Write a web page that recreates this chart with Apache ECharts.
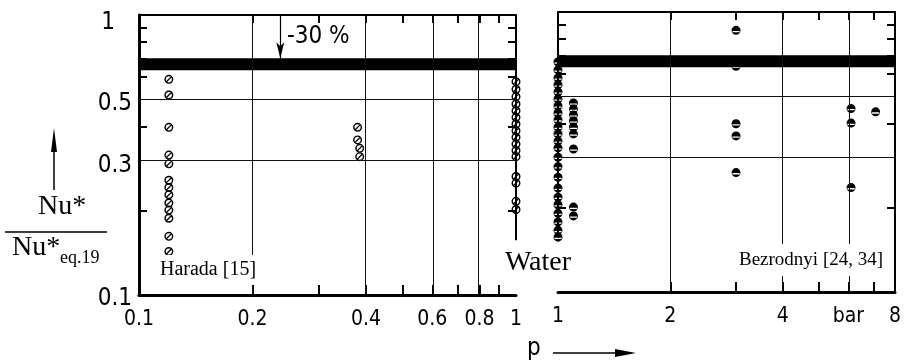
<!DOCTYPE html>
<html>
<head>
<meta charset="utf-8">
<script src="https://cdn.jsdelivr.net/npm/echarts@6/dist/echarts.min.js"></script>
<style>
  html, body { margin: 0; padding: 0; background: #fff; }
  #chart { width: 908px; height: 364px; }
</style>
</head>
<body>
<div id="chart"></div>
<script>
// ---- readings: pressure p (bar) and ratio Nu*/Nu*eq.19 ----
const haradaP = 0.12;
const haradaRatio = [0.589, 0.518, 0.397, 0.316, 0.294, 0.257, 0.242, 0.228, 0.213, 0.201, 0.188, 0.162, 0.143];

const midP = [0.38, 0.38, 0.385, 0.385];
const midRatio = [0.397, 0.358, 0.334, 0.312];

const waterLowP = 1.0;
const waterLowRatio = [0.578, 0.543, 0.511, 0.481, 0.455, 0.431, 0.408, 0.386, 0.366, 0.346, 0.328, 0.312, 0.265, 0.251, 0.216, 0.202];

const waterP = 1.0;
const waterRatio = [0.663, 0.621, 0.581, 0.549, 0.518, 0.489, 0.462, 0.436, 0.412, 0.388, 0.367, 0.346, 0.327, 0.303, 0.280, 0.257, 0.235, 0.218, 0.205, 0.191, 0.178, 0.166, 0.157];

const water2P = 1.1;
const water2Ratio = [0.473, 0.450, 0.429, 0.408, 0.388, 0.367, 0.324, 0.201, 0.187];

const bezP = [3, 3, 3, 3, 3, 6.1, 6.1, 6.1, 7.1];
const bezRatio = [0.86, 0.64, 0.399, 0.361, 0.267, 0.452, 0.401, 0.236, 0.440];

// scatter band of eq.19 and the -30 % marker
const bandTop = 0.70;
const bandBottom = 0.635;
const arrowP = 0.237;
const innerEdgeLow = 0.157;

// axis ranges, ticks, grid lines, labels
const leftRange = [0.1, 1];
const rightRange = [1, 8];
const ratioRange = [0.1, 1];
const leftXTicks = [0.2, 0.3, 0.4, 0.5, 0.6, 0.7, 0.8, 0.9];
const leftXGrid = [0.2, 0.4, 0.6, 0.8];
const leftXLabels = [0.1, 0.2, 0.4, 0.6, 0.8, 1];
const rightXTicks = [2, 3, 4, 5, 6, 7];
const rightXGrid = [2, 4, 6];
const rightXLabels = [1, 2, 4, 6, 8];
const unitTick = 6;           // the "bar" unit sits in place of the 6 label
const yTicks = [0.2, 0.4, 0.6, 0.7, 0.8, 0.9];
const yGrid = [0.3, 0.5];
const yLabels = [0.1, 0.3, 0.5, 1];

// ---- helpers ----
const L = Math.log10;
const pt = (p, v) => [L(p), L(v)];
const back = v => +Math.pow(10, v).toPrecision(3);

const numFont = '"DejaVu Sans Condensed", "Liberation Sans Narrow", "DejaVu Sans", sans-serif';
const serifFont = '"Liberation Serif", "DejaVu Serif", serif';

const slashCircle = 'path://M50,0A50,50 0 1 1 50,100A50,50 0 1 1 50,0Z M50,16A34,34 0 1 0 50,84A34,34 0 1 0 50,16Z M15,75L75,15L85,25L25,85Z';
const stripedDot = 'path://M50,0A50,50 0 1 1 50,100A50,50 0 1 1 50,0Z M10,56L10,70L90,70L90,56Z';

const fmtP = v => { const p = back(v); return p === unitTick ? 'bar' : String(p); };
const fmtY = v => { const r = back(v); return r === 1 ? '{one|1}' : String(r); };

function xAxis(grid, range, pos, ticks, labels, lineW, tickLen) {
  return {
    type: 'value', gridIndex: grid, position: pos,
    min: L(range[0]), max: L(range[1]),
    axisLine: { show: true, onZero: false, lineStyle: { color: '#000', width: lineW } },
    axisTick: { show: true, inside: true, length: tickLen, customValues: ticks.map(L),
      lineStyle: { color: '#000', width: 2 } },
    axisLabel: labels ? {
      show: true, customValues: labels.map(L), formatter: fmtP,
      color: '#000', fontSize: 21, fontFamily: numFont, margin: 14
    } : { show: false },
    splitLine: { show: false }
  };
}

function yAxis(grid, pos, showLine, lineW, labels) {
  return {
    type: 'value', gridIndex: grid, position: pos,
    min: L(ratioRange[0]), max: L(ratioRange[1]),
    axisLine: { show: showLine, onZero: false, lineStyle: { color: '#000', width: lineW } },
    axisTick: { show: true, inside: true, length: 8, customValues: yTicks.map(L),
      lineStyle: { color: '#000', width: 2 } },
    axisLabel: labels ? {
      show: true, customValues: labels.map(L), formatter: fmtY,
      color: '#000', fontSize: 24, fontFamily: numFont, margin: 7, padding: [8, 0, 0, 0],
      rich: { one: { color: '#000', fontSize: 24, fontFamily: numFont, padding: [8, 17, 0, 0] } }
    } : { show: false },
    splitLine: { show: false }
  };
}

const gridLineStyle = { color: '#111', width: 1, type: 'solid' };

function panelDecor(xi, yi, xGrid) {
  return {
    type: 'scatter', xAxisIndex: xi, yAxisIndex: yi, data: [], silent: true, z: 1,
    markArea: {
      silent: true, itemStyle: { color: '#000' },
      data: [[{ yAxis: L(bandTop) }, { yAxis: L(bandBottom) }]]
    },
    markLine: {
      silent: true, symbol: ['none', 'none'], label: { show: false },
      lineStyle: gridLineStyle, animation: false,
      data: [
        ...xGrid.map(p => ({ xAxis: L(p) })),
        ...yGrid.map(v => ({ yAxis: L(v) }))
      ]
    }
  };
}

function innerEdge(xi, yi, withArrow) {
  const data = [[
    { coord: [0, L(1)], lineStyle: { width: 2, color: '#000' } },
    { coord: [0, L(innerEdgeLow)] }
  ]];
  if (withArrow) {
    data.push([
      { coord: [L(arrowP), L(1)], symbol: 'none', lineStyle: { width: 1.2, color: '#000' } },
      { coord: [L(arrowP), L(bandTop)], symbol: 'arrow', symbolSize: [6, 16] }
    ]);
  }
  return {
    type: 'scatter', xAxisIndex: xi, yAxisIndex: yi, data: [], silent: true, z: 3,
    markLine: {
      silent: true, symbol: ['none', 'none'], label: { show: false }, animation: false,
      itemStyle: { color: '#000' },
      lineStyle: { color: '#000', width: 2, type: 'solid' },
      data
    }
  };
}

function points(name, xi, yi, symbol, data) {
  return {
    name, type: 'scatter', xAxisIndex: xi, yAxisIndex: yi,
    symbol, symbolSize: 9, clip: false, z: 4,
    itemStyle: { color: '#000', opacity: 1 },
    data
  };
}

const chart = echarts.init(document.getElementById('chart'), null, { renderer: 'canvas' });

chart.setOption({
  animation: false,
  backgroundColor: '#fff',
  grid: [
    { left: 139, top: 15, width: 377, height: 280, outerBoundsMode: 'none' },
    { left: 558, top: 12, width: 337, height: 280, outerBoundsMode: 'none' }
  ],
  xAxis: [
    xAxis(0, leftRange, 'bottom', leftXTicks, leftXLabels, 3, 10),
    xAxis(0, leftRange, 'top', leftXTicks, null, 2, 8),
    xAxis(1, rightRange, 'bottom', rightXTicks, rightXLabels, 3, 10),
    xAxis(1, rightRange, 'top', rightXTicks, null, 2, 8)
  ],
  yAxis: [
    yAxis(0, 'left', true, 3, yLabels),
    yAxis(0, 'right', false, 2, null),
    yAxis(1, 'left', false, 2, null),
    yAxis(1, 'right', true, 2, null)
  ],
  series: [
    panelDecor(0, 0, leftXGrid),
    panelDecor(2, 3, rightXGrid),
    innerEdge(0, 0, true),
    innerEdge(2, 3, false),
    points('Harada', 0, 0, slashCircle, haradaRatio.map(v => pt(haradaP, v))),
    points('Harada 0.4', 0, 0, slashCircle, midP.map((p, i) => pt(p, midRatio[i]))),
    points('Water low', 0, 0, slashCircle, waterLowRatio.map(v => pt(waterLowP, v))),
    points('Water', 2, 3, stripedDot, waterRatio.map(v => pt(waterP, v))),
    points('Water 1.1', 2, 3, stripedDot, water2Ratio.map(v => pt(water2P, v))),
    points('Bezrodnyi', 2, 3, stripedDot, bezP.map((p, i) => pt(p, bezRatio[i])))
  ],
  graphic: [
    { type: 'text', x: 287, y: 37, z: 10,
      style: { text: '-30 %', fontSize: 24, fontFamily: numFont, fill: '#000',
        align: 'left', verticalAlign: 'middle', textAlign: 'left', textVerticalAlign: 'middle' } },
    { type: 'text', x: 158, y: 270, z: 10,
      style: { text: 'Harada [15]', fontSize: 20, fontFamily: serifFont, fill: '#000',
        backgroundColor: '#fff', padding: [5, 2, 5, 2],
        align: 'left', verticalAlign: 'middle', textAlign: 'left', textVerticalAlign: 'middle' } },
    { type: 'text', x: 538, y: 263, z: 10,
      style: { text: 'Water', fontSize: 28, fontFamily: serifFont, fill: '#000',
        align: 'center', verticalAlign: 'middle', textAlign: 'center', textVerticalAlign: 'middle' } },
    { type: 'text', x: 737, y: 260, z: 10,
      style: { text: 'Bezrodnyi [24, 34]', fontSize: 19, fontFamily: serifFont, fill: '#000',
        backgroundColor: '#fff', padding: [6, 2, 7, 2],
        align: 'left', verticalAlign: 'middle', textAlign: 'left', textVerticalAlign: 'middle' } },
    // y-axis quantity: Nu* / Nu*eq.19 with upward arrow
    { type: 'line', z: 10, shape: { x1: 54, y1: 190, x2: 54, y2: 146 }, style: { stroke: '#000', lineWidth: 1.5 } },
    { type: 'polygon', z: 10, shape: { points: [[54, 128], [51, 152], [57, 152]] }, style: { fill: '#000' } },
    { type: 'text', x: 38, y: 207, z: 10,
      style: { text: 'Nu*', fontSize: 28, fontFamily: serifFont, fill: '#000',
        align: 'left', verticalAlign: 'middle', textAlign: 'left', textVerticalAlign: 'middle' } },
    { type: 'line', z: 10, shape: { x1: 5, y1: 232, x2: 107, y2: 232 }, style: { stroke: '#000', lineWidth: 1.5 } },
    { type: 'text', x: 12, y: 248, z: 10,
      style: { text: 'Nu*', fontSize: 28, fontFamily: serifFont, fill: '#000',
        align: 'left', verticalAlign: 'middle', textAlign: 'left', textVerticalAlign: 'middle' } },
    { type: 'text', x: 60, y: 258, z: 10,
      style: { text: 'eq.19', fontSize: 18, fontFamily: serifFont, fill: '#000',
        align: 'left', verticalAlign: 'middle', textAlign: 'left', textVerticalAlign: 'middle' } },
    // x-axis quantity: p with arrow
    { type: 'text', x: 527, y: 349, z: 10,
      style: { text: 'p', fontSize: 24, fontFamily: numFont, fill: '#000',
        align: 'left', verticalAlign: 'middle', textAlign: 'left', textVerticalAlign: 'middle' } },
    { type: 'line', z: 10, shape: { x1: 553, y1: 353, x2: 620, y2: 353 }, style: { stroke: '#000', lineWidth: 1.5 } },
    { type: 'polygon', z: 10, shape: { points: [[636, 353], [615, 349], [615, 357]] }, style: { fill: '#000' } }
  ]
});
</script>
</body>
</html>
